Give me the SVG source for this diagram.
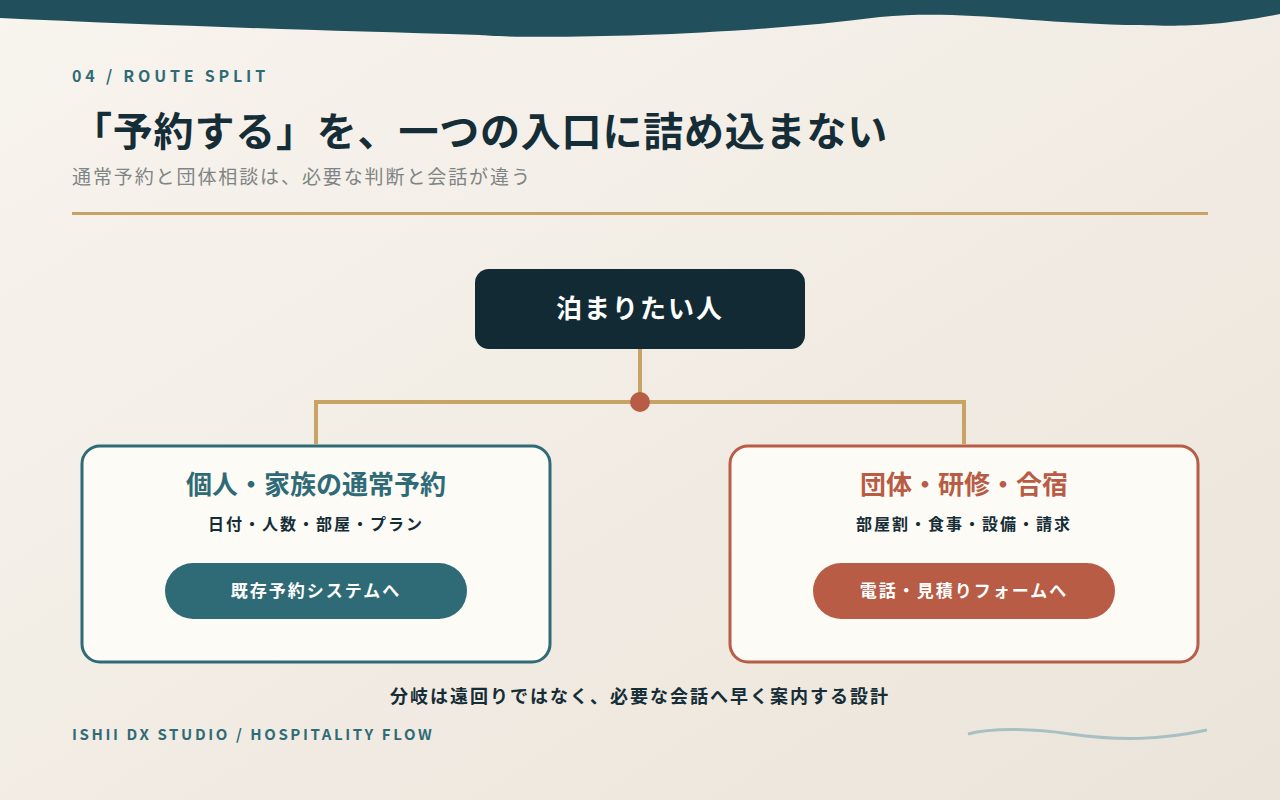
<svg xmlns="http://www.w3.org/2000/svg" width="1280" height="800" viewBox="0 0 1280 800">
<defs>
<linearGradient id="bg" x1="0" y1="0" x2="1" y2="1"><stop offset="0" stop-color="#f8f4ee"/><stop offset="1" stop-color="#ebe4da"/></linearGradient>
<style>
text{font-family:"Noto Sans CJK JP","Noto Sans",sans-serif}
.card{fill:#fdfbf6;stroke-width:3}
.conn{fill:none;stroke:#c8a366;stroke-width:4}
</style>
</defs>
<rect width="1280" height="800" fill="url(#bg)"/>
<path d="M0 0H1280V14C1200 30 1160 25 1126 25C1020 22 960 10 880 17C700 40 500 38 480 35C300 30 150 25 0 18Z" fill="#214f5c"/>
<text x="72" y="82" font-size="16" font-weight="700" fill="#2f6b76" letter-spacing="3.8">04 / ROUTE SPLIT</text>
<text x="72" y="146" font-size="40" font-weight="700" fill="#152d36" letter-spacing="0.8">「予約する」を、一つの入口に詰め込まない</text>
<text x="72" y="184" font-size="19" fill="#7f8585" letter-spacing="1.9">通常予約と団体相談は、必要な判断と会話が違う</text>
<rect x="72" y="212" width="1136" height="3" fill="#c8a366"/>
<g id="connectors">
<path class="conn" d="M640 348V402M316 444V402H964V444"/>
<circle cx="640" cy="402" r="10" fill="#b85c45"/>
</g>
<g id="root">
<rect x="475" y="269" width="330" height="80" rx="14" fill="#112a33"/>
<text x="640" y="318" font-size="26" font-weight="700" fill="#fff" text-anchor="middle" letter-spacing="2">泊まりたい人</text>
</g>
<g id="left">
<rect class="card" x="82" y="446" width="468" height="216" rx="18" stroke="#2f6b76"/>
<text x="316" y="494" font-size="26" font-weight="700" fill="#2f6b76" text-anchor="middle">個人・家族の通常予約</text>
<text x="316" y="530" font-size="16" font-weight="700" fill="#152d36" text-anchor="middle" letter-spacing="2">日付・人数・部屋・プラン</text>
<rect x="165" y="563" width="302" height="56" rx="28" fill="#2f6b76"/>
<text x="316" y="597" font-size="17" font-weight="700" fill="#fff" text-anchor="middle" letter-spacing="2">既存予約システムへ</text>
</g>
<g id="right">
<rect class="card" x="730" y="446" width="468" height="216" rx="18" stroke="#b85c45"/>
<text x="964" y="494" font-size="26" font-weight="700" fill="#b85c45" text-anchor="middle">団体・研修・合宿</text>
<text x="964" y="530" font-size="16" font-weight="700" fill="#152d36" text-anchor="middle" letter-spacing="2">部屋割・食事・設備・請求</text>
<rect x="813" y="563" width="302" height="56" rx="28" fill="#b85c45"/>
<text x="964" y="597" font-size="17" font-weight="700" fill="#fff" text-anchor="middle" letter-spacing="2">電話・見積りフォームへ</text>
</g>
<text x="640" y="703" font-size="18" font-weight="700" fill="#152d36" text-anchor="middle" letter-spacing="2">分岐は遠回りではなく、必要な会話へ早く案内する設計</text>
<text x="72" y="740" font-size="15" font-weight="700" fill="#2f6b76" letter-spacing="2.6">ISHII DX STUDIO / HOSPITALITY FLOW</text>
<path d="M968 734C990 728 1030 728 1070 734C1120 741 1160 740 1207 730" fill="none" stroke="#a8c0c2" stroke-width="3"/>
</svg>
